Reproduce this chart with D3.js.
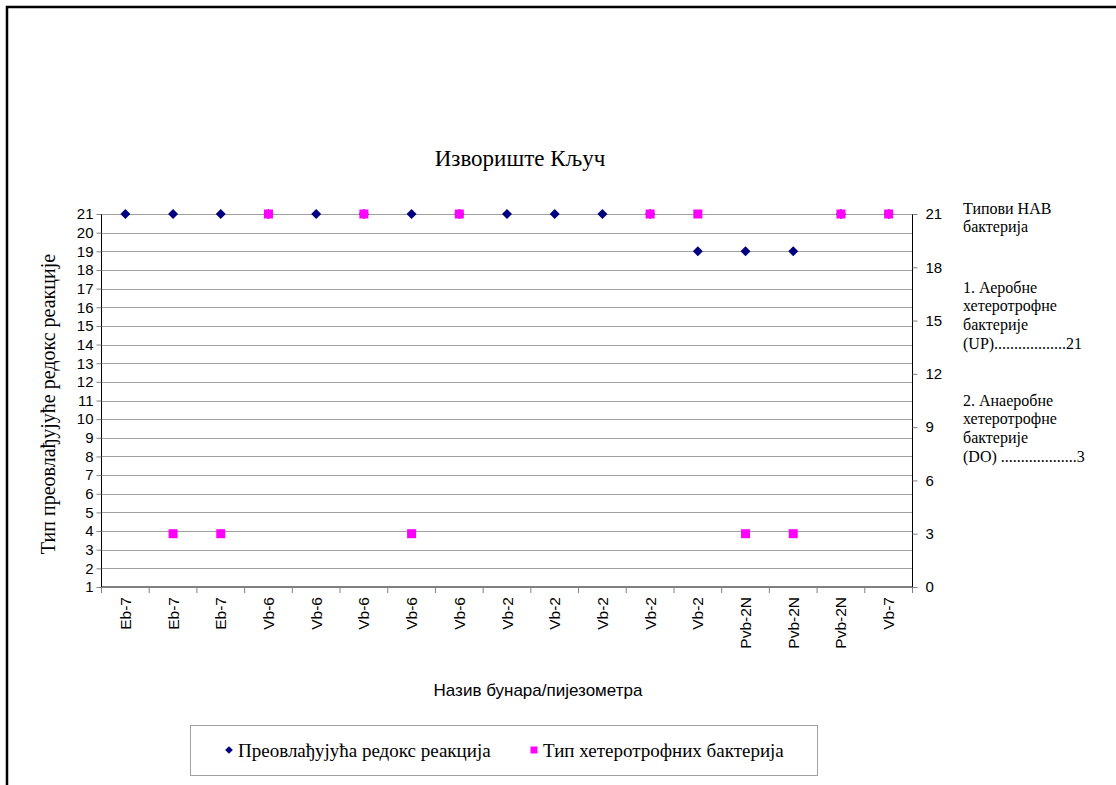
<!DOCTYPE html>
<html><head><meta charset="utf-8">
<script src="https://cdn.jsdelivr.net/npm/d3@7"></script>
<style>body{margin:0;background:#fff}svg{display:block}</style>
</head><body><svg id="c" width="1116" height="785"></svg>
<script>
const categories = ["Eb-7","Eb-7","Eb-7","Vb-6","Vb-6","Vb-6","Vb-6","Vb-6","Vb-2","Vb-2","Vb-2","Vb-2","Vb-2","Pvb-2N","Pvb-2N","Pvb-2N","Vb-7"];
const redoxValues = [21,21,21,21,21,21,21,21,21,21,21,21,19,19,19,21,21];
const bacteriaValues = [null,3,3,21,null,21,3,21,null,null,null,21,21,3,3,21,21];
const leftTicks = d3.range(1,22);
const rightTicks = [0,3,6,9,12,15,18,21];
const seriesNames = ["Преовлађујућа редокс реакција","Тип хетеротрофних бактерија"];
const sideNote = [["Типови НАВ","бактерија"],["1. Аеробне","хетеротрофне","бактерије","(UP)..................21"],["2. Анаеробне","хетеротрофне","бактерије","(DO) ...................3"]];

const svg = d3.select("#c");
const serif = "'Liberation Serif','Times New Roman',serif";
const sans = "'Liberation Sans',Arial,sans-serif";
const L=101.5, R=912.5, T=214, B=587;

// outer frame (top + left)
svg.append("path").attr("d","M7,785 V7 H1116").attr("fill","none").attr("stroke","#000").attr("stroke-width",2.5);

const x = d3.scaleBand().domain(d3.range(categories.length)).range([L,R]);
const yL = d3.scaleLinear().domain([1,21]).range([B,T]);
const yR = d3.scaleLinear().domain([0,21]).range([B,T]);

// gridlines
svg.append("g").selectAll("line").data(leftTicks.slice(1)).join("line")
  .attr("x1",L).attr("x2",R).attr("y1",d=>Math.round(yL(d))+0.5).attr("y2",d=>Math.round(yL(d))+0.5)
  .attr("stroke","#a0a0a0").attr("stroke-width",1);

// left axis
const gl = svg.append("g").attr("transform",`translate(${L},0)`)
  .call(d3.axisLeft(yL).tickValues(leftTicks).tickSize(5).tickPadding(3).tickFormat(d3.format("d")));
gl.select(".domain").attr("stroke","#000").attr("d",`M0,${T}V${B}`);
gl.selectAll(".tick line").attr("stroke","#808080");
gl.selectAll("text").attr("font-family",sans).attr("font-size",15).attr("fill","#000");

// right axis
const gr = svg.append("g").attr("transform",`translate(${R},0)`)
  .call(d3.axisRight(yR).tickValues(rightTicks).tickSize(5).tickPadding(8));
gr.select(".domain").attr("stroke","#000").attr("d",`M0,${T}V${B}`);
gr.selectAll(".tick line").attr("stroke","#808080");
gr.selectAll("text").attr("font-family",sans).attr("font-size",15).attr("fill","#000");

// bottom axis
svg.append("line").attr("x1",L).attr("x2",R).attr("y1",B).attr("y2",B).attr("stroke","#000");
svg.append("g").selectAll("line").data(d3.range(categories.length+1)).join("line")
  .attr("x1",d=>L+d*x.step()).attr("x2",d=>L+d*x.step()).attr("y1",B).attr("y2",B+6).attr("stroke","#808080");
svg.append("g").selectAll("text").data(categories).join("text")
  .attr("transform",(d,i)=>`translate(${x(i)+x.bandwidth()/2+5.5},${B+10}) rotate(-90)`)
  .attr("text-anchor","end").attr("font-family",sans).attr("font-size",15.5).text(d=>d);

// series
svg.append("g").selectAll("path").data(redoxValues.map((v,i)=>({v,i})).filter(d=>d.v!=null)).join("path")
  .attr("d",d3.symbol().type(d3.symbolSquare).size(50)())
  .attr("transform",d=>`translate(${x(d.i)+x.bandwidth()/2},${yL(d.v)}) rotate(45)`)
  .attr("fill","#000080");
svg.append("g").selectAll("rect").data(bacteriaValues.map((v,i)=>({v,i})).filter(d=>d.v!=null)).join("rect")
  .attr("x",d=>x(d.i)+x.bandwidth()/2-4.5).attr("y",d=>yR(d.v)-4.5).attr("width",9).attr("height",9)
  .attr("fill","#ff00ff");

// titles
svg.append("text").attr("x",520).attr("y",166).attr("text-anchor","middle").attr("font-family",serif).attr("font-size",23).text("Извориште Кључ");
svg.append("text").attr("transform","translate(55,404) rotate(-90)").attr("text-anchor","middle").attr("font-family",serif).attr("font-size",20).text("Тип преовлађујуће редокс реакције");
svg.append("text").attr("x",538).attr("y",696).attr("text-anchor","middle").attr("font-family",sans).attr("font-size",17).text("Назив бунара/пијезометра");

// side note
const noteStarts=[208,287,400];
sideNote.forEach((grp,gi)=>grp.forEach((t,li)=>{
  svg.append("text").attr("x",963).attr("y",noteStarts[gi]+li*18.7+5.5).attr("font-family",serif).attr("font-size",16).text(t);
}));

// legend
svg.append("rect").attr("x",190.5).attr("y",725.5).attr("width",627).attr("height",50).attr("fill","#fff").attr("stroke","#a0a0a0");
svg.append("path").attr("d",d3.symbol().type(d3.symbolSquare).size(30)()).attr("transform","translate(229,750) rotate(45)").attr("fill","#000080");
svg.append("text").attr("x",238).attr("y",757).attr("font-family",serif).attr("font-size",19).text(seriesNames[0]);
svg.append("rect").attr("x",530.5).attr("y",746.5).attr("width",7).attr("height",7).attr("fill","#ff00ff");
svg.append("text").attr("x",543).attr("y",757).attr("font-family",serif).attr("font-size",19).text(seriesNames[1]);
</script></body></html>
